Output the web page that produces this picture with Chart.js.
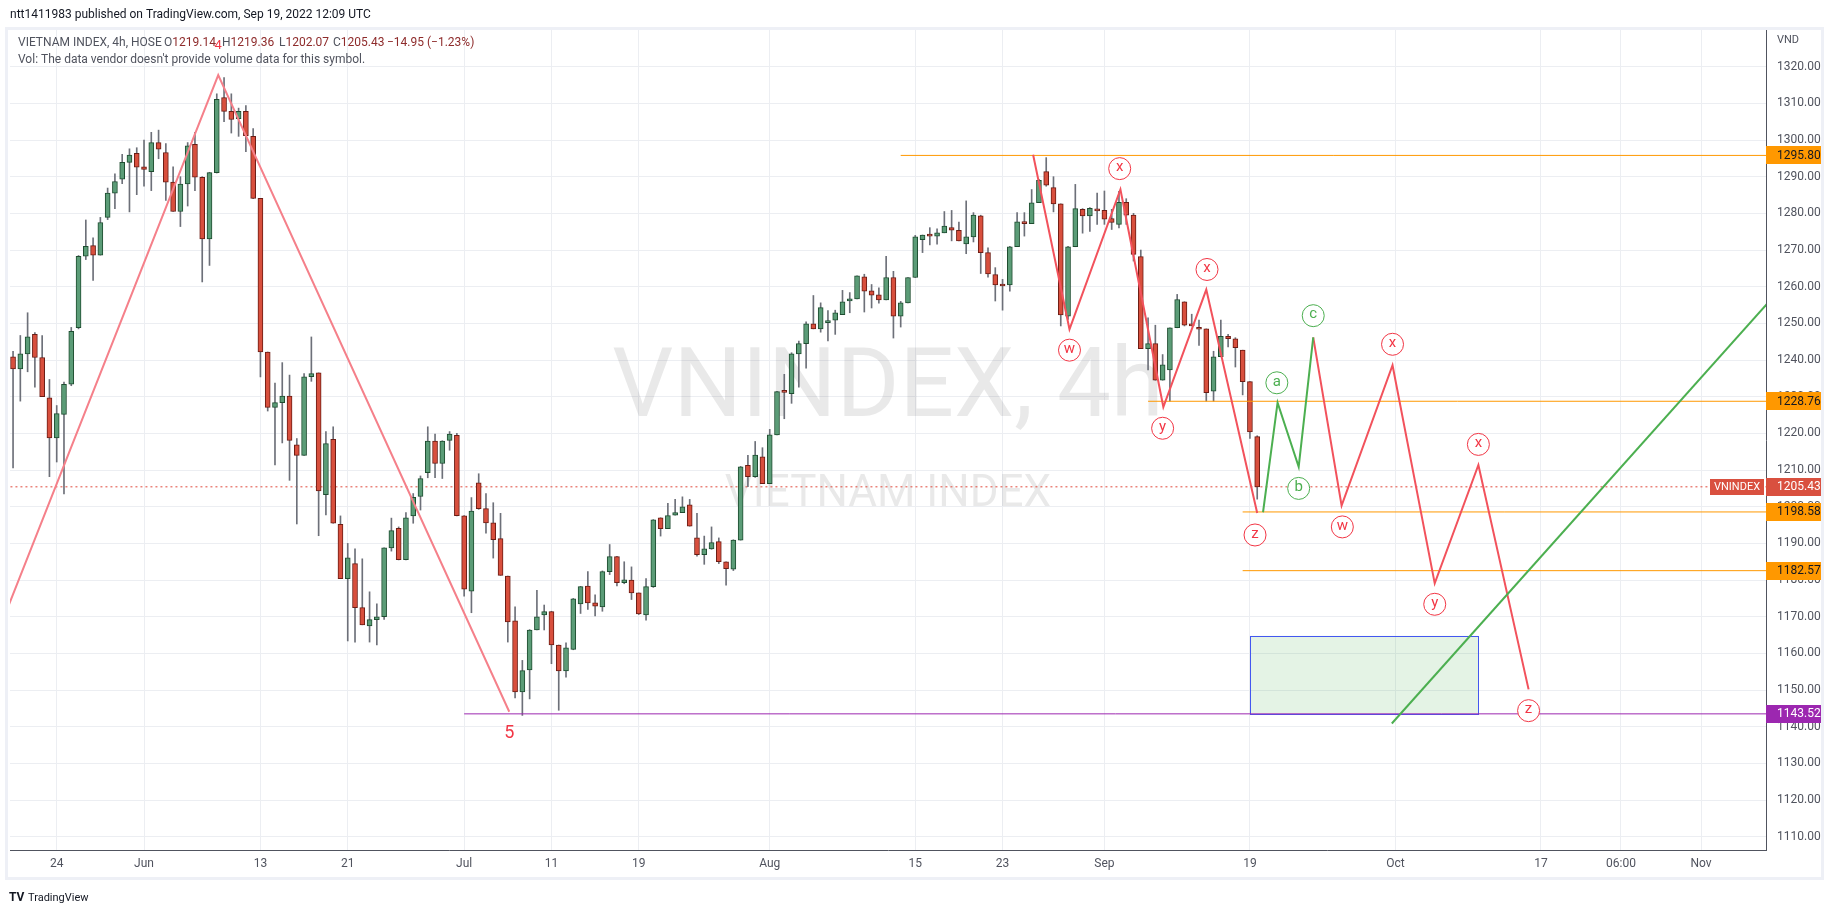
<!DOCTYPE html>
<html>
<head>
<meta charset="utf-8">
<title>VNINDEX 4h</title>
<script src="https://cdn.jsdelivr.net/npm/chart.js@4.4.0/dist/chart.umd.min.js"></script>
<style>
  html, body { margin: 0; padding: 0; background: #ffffff; }
  canvas { display: block; }
</style>
</head>
<body>
<canvas id="chart-vnindex" width="1834" height="913"></canvas>
<script>
// bar index 0 = Jun 1 2022 09:00, two 4h bars per trading day
var firstBar = -18;

var opens = [
    1240.9, 1237.6, 1241.7, 1247.0, 1240.7, 1229.7, 1218.8, 1225.2, 1233.4, 1248.8,
    1268.3, 1271.2, 1268.6, 1278.9, 1285.5, 1289.3, 1293.9, 1296.4, 1292.7, 1291.4,
    1299.3, 1296.6, 1288.5, 1280.5, 1288.0, 1298.8, 1289.8, 1273.0, 1291.1, 1311.6,
    1307.8, 1305.8, 1307.8, 1301.0, 1284.1, 1242.2, 1227.1, 1228.4, 1230.2, 1216.9,
    1214.0, 1235.5, 1236.5, 1203.3, 1218.4, 1195.2, 1180.4, 1184.5, 1172.5, 1167.5,
    1169.2, 1170.0, 1188.8, 1194.1, 1185.6, 1197.5, 1202.8, 1209.3, 1217.9, 1211.8,
    1218.1, 1219.5, 1197.5, 1177.0, 1206.5, 1199.5, 1195.6, 1191.3, 1181.1, 1168.9,
    1149.5, 1155.5, 1166.4, 1170.5, 1171.4, 1162.3, 1155.2, 1161.1, 1173.5, 1178.4,
    1173.8, 1172.7, 1182.3, 1186.4, 1179.3, 1180.0, 1176.5, 1170.5, 1178.2, 1197.0,
    1194.0, 1197.7, 1198.4, 1200.5, 1191.5, 1186.9, 1188.5, 1190.5, 1185.0, 1183.0,
    1190.9, 1211.3, 1208.2, 1213.6, 1206.3, 1219.6, 1231.6, 1230.8, 1241.7, 1244.5,
    1249.9, 1248.5, 1250.2, 1250.9, 1252.4, 1256.1, 1256.7, 1262.7, 1258.9, 1257.8,
    1256.4, 1262.5, 1252.0, 1255.6, 1262.5, 1272.8, 1274.1, 1273.8, 1274.7, 1276.1,
    1275.4, 1271.7, 1273.6, 1279.3, 1269.3, 1263.3, 1260.5, 1260.5, 1270.9, 1277.6,
    1277.2, 1282.9, 1291.4, 1287.0, 1282.6, 1252.0, 1270.9, 1281.1, 1279.3, 1281.1,
    1280.8, 1278.6, 1277.0, 1283.0, 1279.5, 1268.2, 1243.1, 1244.5, 1234.5, 1237.3,
    1248.8, 1255.9, 1249.6, 1248.6, 1248.5, 1231.5, 1240.9, 1246.5, 1245.8, 1242.7,
    1234.1, 1219.14
];
var highs = [
    1242.4, 1246.7, 1252.9, 1247.5, 1246.7, 1234.7, 1227.6, 1234.0, 1248.9, 1268.5,
    1278.2, 1273.3, 1278.9, 1286.9, 1290.8, 1296.1, 1297.6, 1297.9, 1300.0, 1302.1,
    1302.7, 1299.0, 1292.7, 1290.0, 1299.3, 1302.1, 1290.0, 1291.2, 1312.6, 1317.0,
    1312.6, 1308.7, 1309.4, 1303.1, 1284.1, 1242.2, 1233.7, 1239.3, 1235.9, 1218.6,
    1236.3, 1246.3, 1236.5, 1220.5, 1221.8, 1197.5, 1190.0, 1188.5, 1185.8, 1176.8,
    1173.5, 1188.8, 1196.9, 1194.5, 1198.4, 1203.6, 1208.4, 1221.8, 1219.8, 1218.0,
    1220.5, 1220.0, 1197.6, 1202.5, 1209.0, 1203.6, 1201.1, 1198.2, 1181.1, 1172.7,
    1158.1, 1166.5, 1177.2, 1173.2, 1171.5, 1162.3, 1162.9, 1175.0, 1178.3, 1182.3,
    1176.0, 1182.5, 1189.7, 1186.5, 1185.0, 1183.6, 1176.5, 1180.4, 1196.5, 1197.0,
    1200.9, 1202.0, 1202.7, 1202.0, 1198.2, 1192.0, 1194.5, 1191.5, 1185.0, 1191.0,
    1211.0, 1214.0, 1217.8, 1216.1, 1221.1, 1231.5, 1236.1, 1242.0, 1245.2, 1250.4,
    1257.6, 1255.6, 1253.5, 1253.6, 1259.0, 1258.4, 1263.0, 1263.4, 1260.6, 1259.7,
    1268.3, 1264.2, 1256.0, 1262.5, 1274.0, 1274.1, 1276.1, 1275.8, 1280.5, 1280.8,
    1277.6, 1283.4, 1280.2, 1279.5, 1270.6, 1265.2, 1262.0, 1271.0, 1280.2, 1280.2,
    1286.5, 1289.3, 1295.2, 1290.0, 1282.6, 1271.0, 1287.9, 1281.3, 1281.6, 1285.5,
    1286.1, 1281.1, 1286.0, 1284.0, 1280.0, 1270.0, 1251.5, 1249.5, 1241.5, 1248.8,
    1257.9, 1255.9, 1252.5, 1250.9, 1248.5, 1242.4, 1250.9, 1247.0, 1246.1, 1242.7,
    1234.1, 1219.36
];
var lows = [
    1210.6, 1228.8, 1236.8, 1232.6, 1230.0, 1208.2, 1212.2, 1203.5, 1233.0, 1248.5,
    1267.4, 1261.7, 1268.6, 1278.3, 1281.3, 1288.1, 1280.4, 1285.1, 1287.4, 1286.2,
    1294.9, 1283.5, 1280.5, 1276.4, 1282.0, 1286.2, 1261.3, 1265.8, 1291.0, 1305.0,
    1301.9, 1301.0, 1296.8, 1284.0, 1235.4, 1226.1, 1211.4, 1217.4, 1207.2, 1195.3,
    1214.0, 1234.2, 1192.1, 1197.8, 1195.5, 1180.4, 1163.4, 1163.1, 1167.8, 1163.1,
    1162.3, 1169.3, 1187.9, 1185.5, 1185.5, 1195.5, 1199.1, 1207.9, 1207.9, 1207.7,
    1215.4, 1197.5, 1175.6, 1171.1, 1199.3, 1192.8, 1186.0, 1181.3, 1163.1, 1147.9,
    1143.1, 1147.6, 1166.4, 1166.4, 1157.2, 1144.5, 1153.5, 1161.0, 1170.9, 1172.0,
    1170.2, 1171.5, 1181.5, 1178.4, 1179.0, 1174.7, 1170.6, 1169.1, 1178.0, 1192.0,
    1194.0, 1197.7, 1198.4, 1194.7, 1186.5, 1184.3, 1188.4, 1184.5, 1178.6, 1182.6,
    1190.9, 1205.5, 1208.0, 1206.3, 1206.3, 1219.6, 1224.0, 1228.2, 1232.6, 1237.8,
    1248.5, 1247.6, 1245.2, 1247.0, 1252.4, 1252.9, 1256.7, 1253.1, 1254.2, 1255.5,
    1256.4, 1246.0, 1249.0, 1255.6, 1262.5, 1269.3, 1271.4, 1271.6, 1274.7, 1272.5,
    1272.5, 1269.0, 1272.2, 1263.6, 1262.6, 1256.1, 1253.6, 1258.8, 1270.9, 1273.8,
    1277.2, 1282.9, 1287.4, 1280.4, 1249.3, 1251.1, 1270.9, 1274.6, 1275.1, 1277.0,
    1277.0, 1275.6, 1276.0, 1277.0, 1267.0, 1243.1, 1237.3, 1234.5, 1234.5, 1228.8,
    1248.8, 1249.3, 1249.3, 1244.0, 1228.8, 1228.8, 1240.9, 1243.6, 1238.1, 1230.5,
    1218.6, 1202.07
];
var closes = [
    1237.6, 1241.7, 1246.3, 1240.7, 1230.0, 1218.8, 1225.4, 1233.4, 1247.8, 1268.3,
    1271.0, 1268.6, 1277.5, 1285.5, 1288.7, 1293.9, 1295.9, 1292.6, 1292.0, 1299.3,
    1297.5, 1288.5, 1280.5, 1288.0, 1298.4, 1289.9, 1273.0, 1291.1, 1311.1, 1307.8,
    1305.6, 1307.8, 1301.2, 1284.1, 1242.2, 1227.1, 1228.4, 1230.2, 1218.1, 1214.0,
    1235.4, 1236.3, 1204.3, 1217.2, 1195.5, 1180.4, 1186.1, 1172.5, 1167.8, 1169.2,
    1170.0, 1188.8, 1193.5, 1185.6, 1197.0, 1202.6, 1207.7, 1217.9, 1211.8, 1217.9,
    1219.8, 1197.6, 1177.5, 1198.8, 1199.5, 1195.6, 1191.0, 1181.3, 1168.6, 1149.5,
    1155.3, 1166.4, 1170.0, 1171.4, 1162.3, 1155.2, 1161.5, 1174.9, 1178.2, 1173.8,
    1172.9, 1182.3, 1186.4, 1179.3, 1180.1, 1176.5, 1170.8, 1178.2, 1196.4, 1194.0,
    1197.6, 1198.4, 1200.0, 1194.7, 1186.9, 1188.5, 1190.2, 1185.0, 1183.1, 1190.9,
    1210.9, 1208.2, 1214.1, 1206.3, 1219.6, 1231.4, 1231.2, 1241.7, 1244.5, 1249.9,
    1248.5, 1254.3, 1250.7, 1252.9, 1255.9, 1256.7, 1263.0, 1258.8, 1257.7, 1256.4,
    1262.5, 1252.0, 1255.6, 1262.5, 1273.6, 1274.1, 1273.8, 1274.7, 1276.5, 1275.4,
    1272.5, 1273.6, 1279.5, 1269.3, 1263.5, 1260.5, 1260.2, 1270.9, 1277.7, 1277.2,
    1282.9, 1289.0, 1287.7, 1282.6, 1252.3, 1270.9, 1281.3, 1279.3, 1281.4, 1280.7,
    1278.4, 1277.5, 1283.0, 1279.5, 1268.8, 1243.1, 1244.5, 1234.5, 1238.7, 1248.8,
    1256.5, 1249.5, 1249.3, 1248.4, 1231.1, 1240.9, 1246.5, 1245.8, 1243.4, 1234.1,
    1220.38, 1205.43
];

// time axis (bar index -> label)
var timeTicks = [-12, 0, 16, 28, 44, 56, 68, 86, 106, 118, 132, 152, 172, 192, 203, 214];
var timeLabels = ['24', 'Jun', '13', '21', 'Jul', '11', '19', 'Aug', '15', '23', 'Sep', '19', 'Oct', '17', '06:00', 'Nov'];
var priceTicks = [1110, 1120, 1130, 1140, 1150, 1160, 1170, 1180, 1190, 1200, 1210,
                  1220, 1230, 1240, 1250, 1260, 1270, 1280, 1290, 1300, 1310, 1320];
var viewMinBar = -18.42, viewMaxBar = 222.93;
var viewMinPrice = 1106.4, viewMaxPrice = 1330;

// horizontal levels
var levelPrices = [1295.80, 1228.76, 1198.58, 1182.57, 1143.52];
var levelStarts = [104, 138, 151, 151, 44];
var levelColors = ['#ff9800', '#ff9800', '#ff9800', '#ff9800', '#9c27b0'];

// wave drawings
var wave4X = [-18.7, 10.2, 50.2];
var wave4Y = [1172.6, 1317.7, 1144.1];
var waveWX = [122.2, 127.2, 134.2, 140.1, 146.0, 153.0];
var waveWY = [1296.0, 1248.4, 1286.5, 1227.2, 1259.2, 1198.3];
var waveAbcX = [153.8, 155.8, 158.7, 160.7];
var waveAbcY = [1198.5, 1228.4, 1210.9, 1246.2];
var waveNextX = [160.7, 164.6, 171.6, 177.4, 183.4, 190.3];
var waveNextY = [1246.2, 1200.3, 1238.6, 1179.1, 1211.4, 1150.2];
var trendX = [171.5, 224];
var trendY = [1140.9, 1257.4];
var boxBars = [152, 183.4];
var boxPrices = [1143.52, 1164.8];

// wave labels
var redLetters = ['w', 'x', 'y', 'x', 'z', 'w', 'x', 'y', 'x', 'z'];
var redLabelX = [127.2, 134.1, 140.0, 146.1, 152.7, 164.7, 171.6, 177.4, 183.4, 190.3];
var redLabelY = [1242.7, 1292.2, 1221.4, 1264.7, 1192.3, 1194.5, 1244.3, 1173.4, 1217.0, 1144.4];
var greenLetters = ['a', 'b', 'c'];
var greenLabelX = [155.7, 158.7, 160.7];
var greenLabelY = [1233.8, 1205.0, 1252.1];
var waveNumText = ['4', '5'];
var waveNumX = [10.2, 50.2];
var waveNumY = [1325.6, 1138.3];

var FONT = 'Roboto, "Liberation Sans", sans-serif';

function pts(xs, ys) {
    return xs.map(function (x, i) { return { x: x, y: ys[i] }; });
}

var bodyData = [], wickData = [], bodyFill = [], bodyEdge = [];
for (var i = 0; i < opens.length; i++) {
    var k = firstBar + i;
    bodyData.push({ x: k, y: [opens[i], closes[i]] });
    wickData.push({ x: k, y: [lows[i], highs[i]] });
    var up = closes[i] >= opens[i];
    bodyFill.push(up ? '#5b9c77' : '#d84f3d');
    bodyEdge.push(up ? '#1e4d30' : '#6b1c14');
}
var last = opens.length - 1;
var lastPrice = closes[last];

function lineSet(data, color, width, order, dash) {
    return {
        type: 'line', data: data, borderColor: color, borderWidth: width,
        pointRadius: 0, tension: 0, fill: false, order: order,
        borderDash: dash || []
    };
}

var datasets = [];
datasets.push({
    label: 'wick', data: wickData, backgroundColor: '#6d7079', borderWidth: 0,
    barThickness: 1, grouped: false, order: 6
});
datasets.push({
    label: 'body', data: bodyData, backgroundColor: bodyFill, borderColor: bodyEdge,
    borderWidth: 1, borderSkipped: false, barThickness: 5, minBarLength: 2,
    grouped: false, order: 5
});
datasets.push(lineSet([{ x: viewMinBar - 2, y: lastPrice }, { x: viewMaxBar + 2, y: lastPrice }], '#e0483b', 1, 7, [2, 3]));
for (var j = 0; j < levelPrices.length; j++) {
    datasets.push(lineSet([{ x: levelStarts[j], y: levelPrices[j] }, { x: viewMaxBar + 2, y: levelPrices[j] }],
        levelColors[j], 1, 4));
}
datasets.push(lineSet(pts(wave4X, wave4Y), '#f5808a', 2, 2));
datasets.push(lineSet(pts(waveWX, waveWY), '#f2525c', 2, 2));
datasets.push(lineSet(pts(waveAbcX, waveAbcY), '#4caf50', 2, 2));
datasets.push(lineSet(pts(waveNextX, waveNextY), '#f2525c', 2, 2));
datasets.push(lineSet(pts(trendX, trendY), '#4caf50', 2, 1));

function priceBox(ctx, y, text, fill, color) {
    ctx.fillStyle = fill;
    ctx.fillRect(1766, Math.round(y) - 9, 55, 18);
    ctx.fillStyle = color;
    ctx.font = '12px ' + FONT;
    ctx.textAlign = 'left';
    ctx.textBaseline = 'middle';
    ctx.fillText(text, 1777, y + 0.5);
}

function circleLabel(ctx, x, y, letter, color) {
    ctx.beginPath();
    ctx.arc(x, y, 11, 0, Math.PI * 2);
    ctx.fillStyle = '#ffffff';
    ctx.fill();
    ctx.lineWidth = 1;
    ctx.strokeStyle = color;
    ctx.stroke();
    ctx.fillStyle = color;
    ctx.font = '15px ' + FONT;
    ctx.textAlign = 'center';
    ctx.textBaseline = 'middle';
    ctx.fillText(letter, x, y - 1);
}

var drawings = {
    id: 'drawings',
    beforeDraw: function (chart) {
        var ctx = chart.ctx;
        ctx.save();
        ctx.fillStyle = '#ffffff';
        ctx.fillRect(0, 0, chart.width, chart.height);
        ctx.fillStyle = '#eef0f6';
        ctx.fillRect(5, 27, 1819, 853);
        ctx.fillStyle = '#ffffff';
        ctx.fillRect(8, 30, 1813, 847);
        ctx.restore();
    },
    beforeDatasetsDraw: function (chart) {
        var ctx = chart.ctx, a = chart.chartArea;
        var xs = chart.scales.x, ys = chart.scales.y;
        ctx.save();
        ctx.beginPath();
        ctx.rect(a.left, a.top, a.right - a.left, a.bottom - a.top);
        ctx.clip();
        // watermark
        var cx = (a.left + a.right) / 2;
        ctx.fillStyle = 'rgba(40, 40, 40, 0.10)';
        ctx.textAlign = 'center';
        ctx.textBaseline = 'middle';
        ctx.font = '96px ' + FONT;
        ctx.fillText('VNINDEX, 4h', cx, 392);
        ctx.font = '44px ' + FONT;
        ctx.fillText('VIETNAM INDEX', cx, 495);
        // target box
        var x0 = xs.getPixelForValue(boxBars[0]), x1 = xs.getPixelForValue(boxBars[1]);
        var y0 = ys.getPixelForValue(boxPrices[1]), y1 = ys.getPixelForValue(boxPrices[0]);
        ctx.fillStyle = 'rgba(76, 175, 80, 0.15)';
        ctx.fillRect(x0, y0, x1 - x0, y1 - y0);
        ctx.strokeStyle = '#4357f0';
        ctx.lineWidth = 1;
        ctx.strokeRect(Math.round(x0) + 0.5, Math.round(y0) + 0.5, Math.round(x1 - x0), Math.round(y1 - y0));
        ctx.restore();
    },
    afterDatasetsDraw: function (chart) {
        var ctx = chart.ctx;
        var xs = chart.scales.x, ys = chart.scales.y;
        ctx.save();
        for (var i = 0; i < redLetters.length; i++) {
            circleLabel(ctx, xs.getPixelForValue(redLabelX[i]), ys.getPixelForValue(redLabelY[i]), redLetters[i], '#f23645');
        }
        for (var g = 0; g < greenLetters.length; g++) {
            circleLabel(ctx, xs.getPixelForValue(greenLabelX[g]), ys.getPixelForValue(greenLabelY[g]), greenLetters[g], '#4caf50');
        }
        ctx.fillStyle = '#f23645';
        ctx.textAlign = 'center';
        ctx.textBaseline = 'middle';
        ctx.font = '13px ' + FONT;
        ctx.fillText(waveNumText[0], xs.getPixelForValue(waveNumX[0]), ys.getPixelForValue(waveNumY[0]));
        ctx.font = '18px ' + FONT;
        ctx.fillText(waveNumText[1], xs.getPixelForValue(waveNumX[1]), ys.getPixelForValue(waveNumY[1]));
        ctx.restore();
    },
    afterDraw: function (chart) {
        var ctx = chart.ctx, ys = chart.scales.y;
        ctx.save();
        // header
        ctx.textAlign = 'left';
        ctx.textBaseline = 'middle';
        ctx.font = '12px ' + FONT;
        ctx.fillStyle = '#131722';
        ctx.fillText('ntt1411983 published on TradingView.com, Sep 19, 2022 12:09 UTC', 10, 15);
        // legend
        ctx.font = '12px ' + FONT;
        ctx.fillStyle = '#50535e';
        ctx.fillText('VIETNAM INDEX, 4h, HOSE', 18, 43);
        var chg = lastPrice - closes[last - 1];
        var pct = chg / closes[last - 1] * 100;
        var parts = [['O', opens[last], 164], ['H', highs[last], 222], ['L', lows[last], 279], ['C', closes[last], 333]];
        parts.forEach(function (p) {
            ctx.fillStyle = '#50535e';
            ctx.fillText(p[0], p[2], 43);
            ctx.fillStyle = '#8e2b2b';
            ctx.fillText(p[1].toFixed(2), p[2] + ctx.measureText(p[0]).width, 43);
        });
        ctx.fillStyle = '#8e2b2b';
        ctx.fillText('\u2212' + Math.abs(chg).toFixed(2) + ' (\u2212' + Math.abs(pct).toFixed(2) + '%)', 387, 43);
        ctx.fillStyle = '#50535e';
        ctx.fillText('Vol: The data vendor doesn\'t provide volume data for this symbol.', 18, 60);
        // axis currency
        ctx.fillStyle = '#50535e';
        ctx.font = '11px ' + FONT;
        ctx.fillText('VND', 1777, 40);
        // price labels on axis
        for (var i = 0; i < levelPrices.length; i++) {
            var purple = levelColors[i] === '#9c27b0';
            priceBox(ctx, ys.getPixelForValue(levelPrices[i]), levelPrices[i].toFixed(2), levelColors[i], purple ? '#ffffff' : '#131722');
        }
        var ly = ys.getPixelForValue(lastPrice);
        priceBox(ctx, ly, lastPrice.toFixed(2), '#d9503f', '#ffffff');
        ctx.fillStyle = '#d9503f';
        ctx.fillRect(1710, Math.round(ly) - 8, 54, 16);
        ctx.fillStyle = '#ffffff';
        ctx.font = '11px ' + FONT;
        ctx.textAlign = 'center';
        ctx.fillText('VNINDEX', 1737, ly + 0.5);
        // footer logo
        ctx.textAlign = 'left';
        ctx.fillStyle = '#131722';
        ctx.font = 'bold 12px ' + FONT;
        ctx.fillText('TV', 9, 898);
        ctx.font = '11px ' + FONT;
        ctx.fillText('TradingView', 28, 898);
        ctx.restore();
    }
};

var chart1 = new Chart(document.getElementById('chart-vnindex').getContext('2d'), {
    type: 'bar',
    data: { datasets: datasets },
    options: {
        responsive: false,
        animation: false,
        devicePixelRatio: 1,
        events: [],
        layout: { padding: { left: 10, top: 30, right: 0, bottom: 0 } },
        plugins: { legend: { display: false }, tooltip: { enabled: false } },
        scales: {
            x: {
                type: 'linear', min: viewMinBar, max: viewMaxBar, offset: false,
                grid: { color: '#eceef2', drawTicks: false, offset: false },
                border: { color: '#50535e', width: 1 },
                ticks: {
                    autoSkip: false, maxRotation: 0, padding: 7, color: '#50535e',
                    font: { family: FONT, size: 12 },
                    callback: function (value) {
                        var idx = timeTicks.indexOf(value);
                        return idx >= 0 ? timeLabels[idx] : '';
                    }
                },
                afterBuildTicks: function (scale) {
                    scale.ticks = timeTicks.map(function (v) { return { value: v }; });
                },
                afterFit: function (scale) { scale.height = 63; }
            },
            y: {
                type: 'linear', position: 'right', min: viewMinPrice, max: viewMaxPrice,
                grid: { color: '#eceef2', drawTicks: false },
                border: { color: '#50535e', width: 1 },
                ticks: {
                    padding: 11, color: '#50535e', font: { family: FONT, size: 12 },
                    callback: function (value) { return Number(value).toFixed(2); }
                },
                afterBuildTicks: function (scale) {
                    scale.ticks = priceTicks.map(function (v) { return { value: v }; });
                },
                afterFit: function (scale) { scale.width = 68; }
            }
        }
    },
    plugins: [drawings]
});
</script>
</body>
</html>
